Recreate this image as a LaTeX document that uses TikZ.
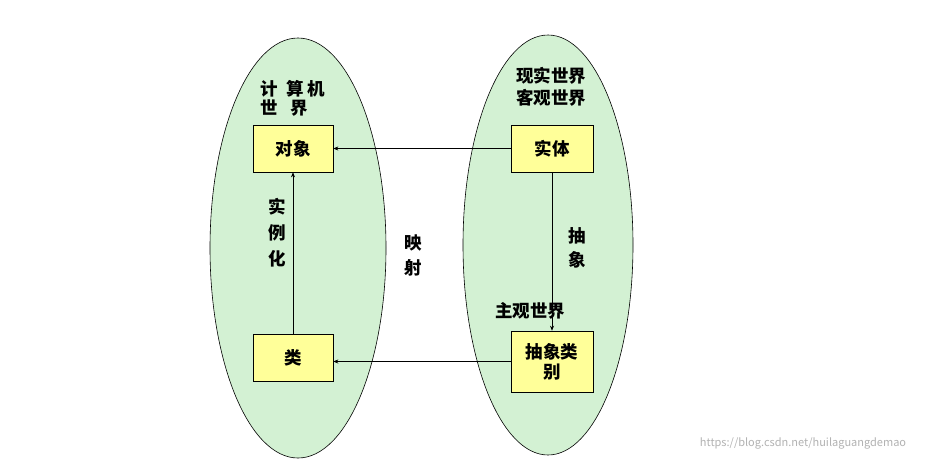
\documentclass[tikz,border=0pt]{standalone}
\usepackage{fontspec}
\setmainfont{Noto Sans CJK SC}
\usetikzlibrary{arrows.meta}
\definecolor{egreen}{HTML}{D3F1D3}
\definecolor{byellow}{HTML}{FFFF99}
\begin{document}
\begin{tikzpicture}[x=1pt,y=-1pt,
  ell/.style={draw=black,fill=egreen,line width=0.6pt},
  box/.style={draw=black,fill=byellow,line width=0.6pt,minimum width=80pt,minimum height=47pt,font=\bfseries\fontsize{17.5}{20}\selectfont,align=center},
  lbl/.style={font=\bfseries\fontsize{17.5}{19}\selectfont,align=center,inner sep=0pt},
  conn/.style={draw=black,line width=0.6pt,-{Stealth[length=5pt,width=4pt]}}]
\useasboundingbox (0,0) rectangle (949,464);
\fill[white] (0,0) rectangle (949,464);
\draw[ell] (298,248) ellipse [x radius=88,y radius=210];
\draw[ell] (548,245) ellipse [x radius=85,y radius=210];
\node[box] (obj) at (293,148.5) {对象};
\node[box] (cls) at (293,357.5) {类};
\node[box,minimum width=82pt] (ent) at (552,148.5) {实体};
\node[box,minimum width=82pt,minimum height=61pt] (abs) at (552,361.5) {抽象类\\别};
\draw[conn] (ent.west) -- (obj.east);
\draw[conn] (abs.west) -- (abs.west -| cls.east);
\draw[conn] (cls.north) -- (obj.south);
\draw[conn] (ent.south) -- (abs.north);
\node[lbl,align=left] (t1) at (295,98) {计\hspace{8pt}算\hspace{4pt}机\\世\hspace{12pt}界\phantom{\hspace{4pt}机}};
\node[lbl,font=\bfseries\fontsize{17.5}{22}\selectfont] (t2) at (551,87) {现实世界\\客观世界};
\node[lbl,font=\bfseries\fontsize{17.5}{26}\selectfont] (t3) at (277,233) {实\\例\\化};
\node[lbl,font=\bfseries\fontsize{17.5}{25}\selectfont] (t4) at (413,255) {映\\射};
\node[lbl,font=\bfseries\fontsize{17.5}{24}\selectfont] (t5) at (577,248) {抽\\象};
\node[lbl] (t6) at (530,311) {主观世界};
\node[font=\fontsize{11}{13}\selectfont,text=gray!60,inner sep=0pt] (wm) at (803,443) {https://blog.csdn.net/huilaguangdemao};
\end{tikzpicture}
\end{document}
